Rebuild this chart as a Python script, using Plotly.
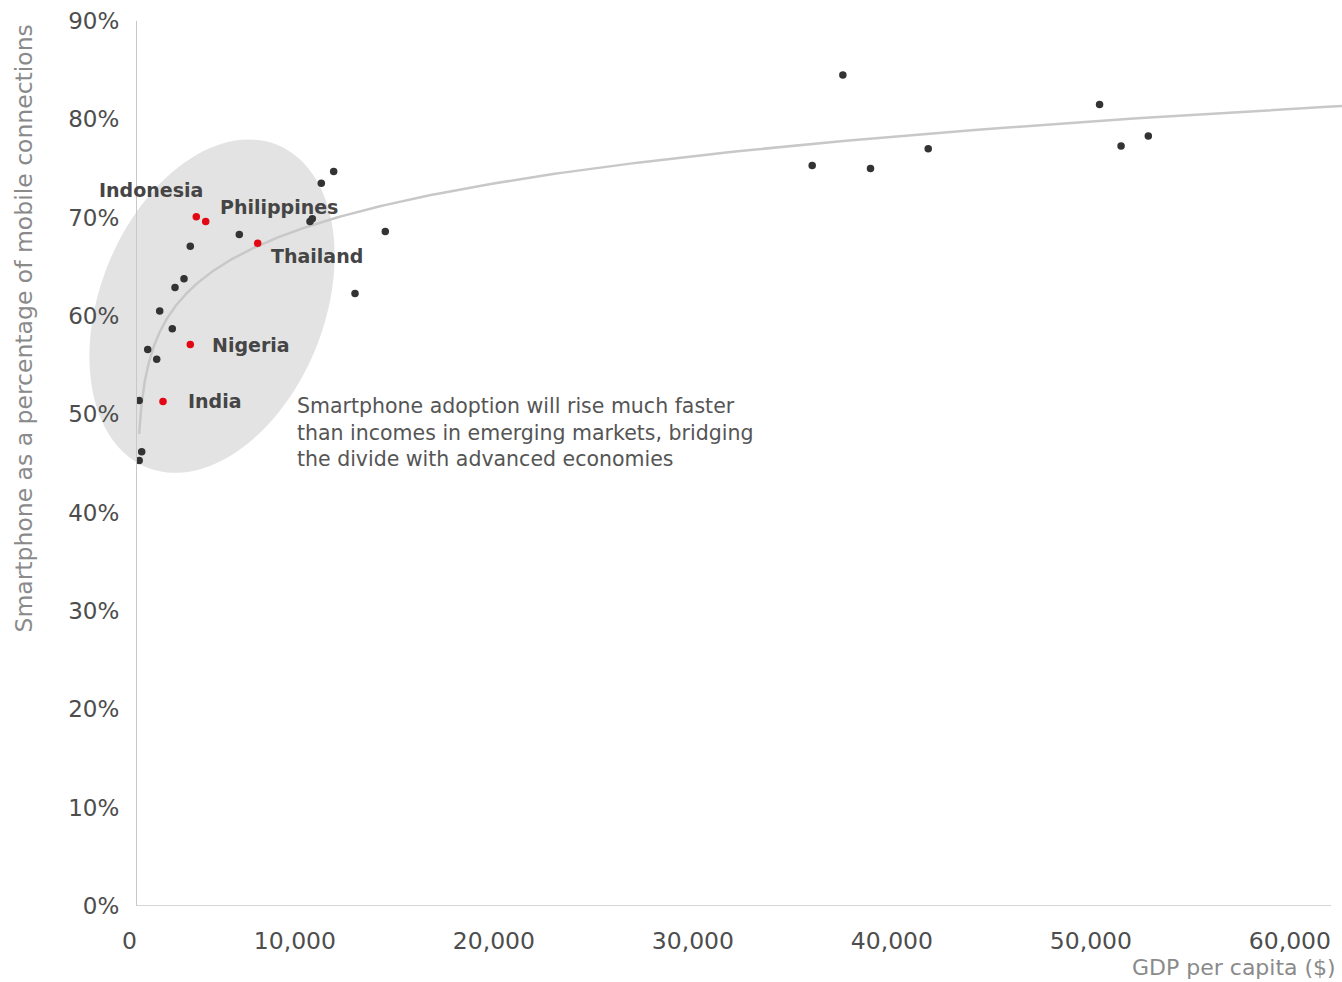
import numpy as np
import plotly.graph_objects as go

# GDP per capita (US$) and smartphone share of mobile connections (%)
other_gdp = [110, 236, 110, 538, 990, 1141, 1774, 1910, 2362, 2678, 5141,
             8693, 8809, 9261, 9884, 10955, 12477,
             33930, 35470, 36860, 39760, 48370, 49450, 50820]
other_share = [45.3, 46.2, 51.4, 56.6, 55.6, 60.5, 58.7, 62.9, 63.8, 67.1, 68.3,
               69.6, 69.9, 73.5, 74.7, 62.3, 68.6,
               75.3, 84.5, 75.0, 77.0, 81.5, 77.3, 78.3]

focus_names = ["Indonesia", "Philippines", "Thailand", "Nigeria", "India"]
focus_gdp = [2980, 3452, 6065, 2678, 1307]
focus_share = [70.1, 69.6, 67.4, 57.1, 51.3]

x_ticks = [0, 10000, 20000, 30000, 40000, 50000, 60000]
x_tick_text = ["0", "10,000", "20,000", "30,000", "40,000", "50,000", "60,000"]
y_ticks = [0, 10, 20, 30, 40, 50, 60, 70, 80, 90]
y_tick_text = ["0%", "10%", "20%", "30%", "40%", "50%", "60%", "70%", "80%", "90%"]

note_text = ("Smartphone adoption will rise much faster<br>"
             "than incomes in emerging markets, bridging<br>"
             "the divide with advanced economies")

# ---- page geometry ----
W, H = 1342, 982
M_L, M_R, M_T, M_B = 137, 0, 21, 76
X_MAX = 60553
Y_MAX = 90
plot_w = W - M_L - M_R
plot_h = H - M_T - M_B
px_per_x = plot_w / X_MAX
px_per_y = plot_h / Y_MAX

FONT = "DejaVu Sans"
DARK = "#333333"
RED = "#e30613"
GREY_LINE = "#c8c8c8"

# ---- power trendline fitted on the main country series ----
fit_gdp = np.array(other_gdp, dtype=float)
fit_share = np.array(other_share, dtype=float)
slope, intercept = np.polyfit(np.log(fit_gdp), np.log(fit_share), 1)
trend_x = np.geomspace(fit_gdp.min(), X_MAX, 400)
trend_y = np.exp(intercept) * trend_x ** slope

# ---- highlight ellipse around emerging markets (tilted in screen space) ----
# built in paper coordinates so it may spill past the y axis into the margin
ell_cx, ell_cy = 3770, 61.0          # centre in data units
ell_a, ell_b = 174, 112              # semi-axes in pixels
ell_tilt = np.deg2rad(68)
t = np.linspace(0, 2 * np.pi, 120)
dx_px = ell_a * np.cos(t) * np.cos(ell_tilt) - ell_b * np.sin(t) * np.sin(ell_tilt)
dy_px = ell_a * np.cos(t) * np.sin(ell_tilt) + ell_b * np.sin(t) * np.cos(ell_tilt)
ex = (ell_cx * px_per_x + dx_px) / plot_w
ey = (ell_cy * px_per_y + dy_px) / plot_h
ell_path = "M " + " L ".join(f"{a:.5f},{b:.5f}" for a, b in zip(ex, ey)) + " Z"

fig = go.Figure()

fig.add_trace(go.Scatter(
    x=trend_x, y=trend_y, mode="lines",
    line=dict(color=GREY_LINE, width=2.5), hoverinfo="skip", showlegend=False))

fig.add_trace(go.Scatter(
    x=other_gdp, y=other_share, mode="markers",
    marker=dict(color=DARK, size=7.5, line=dict(width=0)), showlegend=False))

fig.add_trace(go.Scatter(
    x=focus_gdp, y=focus_share, mode="markers",
    marker=dict(color=RED, size=7.5, line=dict(width=0)), showlegend=False))

fig.add_shape(type="path", path=ell_path, xref="paper", yref="paper",
              fillcolor="#e3e3e3", line=dict(width=0), layer="below")

# x axis baseline ends at the last tick
fig.add_shape(type="line", xref="x", yref="y", x0=0, x1=60000, y0=0, y1=0,
              line=dict(color=GREY_LINE, width=1.5), layer="above")

# country labels placed relative to their markers
label_offsets = {
    "Indonesia": ("right", 9, 27),
    "Philippines": ("left", 12, 15),
    "Thailand": ("left", 11, -13),
    "Nigeria": ("left", 20, 0),
    "India": ("left", 23, 1),
}
for name, gx, sy in zip(focus_names, focus_gdp, focus_share):
    anchor, xs, ys = label_offsets[name]
    fig.add_annotation(x=gx, y=sy, xref="x", yref="y", text=name,
                       showarrow=False, xanchor=anchor, yanchor="middle",
                       xshift=xs, yshift=ys,
                       font=dict(family=FONT, size=19, color="#454545", weight="bold"))

fig.add_annotation(x=(295 - M_L) / px_per_x, y=(H - M_B - 432) / px_per_y,
                   xref="x", yref="y", text=note_text, showarrow=False,
                   xanchor="left", yanchor="middle", align="left",
                   font=dict(family=FONT, size=20.5, color="#555555"))

# axis titles
fig.add_annotation(x=(24 - M_L) / plot_w, y=(H - M_B - 328.5) / plot_h,
                   xref="paper", yref="paper", showarrow=False, textangle=-90,
                   text="Smartphone as a percentage of mobile connections",
                   xanchor="center", yanchor="middle",
                   font=dict(family=FONT, size=23.5, color="#8a8a8a"))
fig.add_annotation(x=1, y=(H - M_B - 967) / plot_h, xref="paper", yref="paper",
                   xshift=-4, showarrow=False, text="GDP per capita ($)",
                   xanchor="right", yanchor="middle",
                   font=dict(family=FONT, size=22, color="#8a8a8a"))

fig.update_layout(
    width=W, height=H,
    margin=dict(l=M_L, r=M_R, t=M_T, b=M_B, pad=0),
    paper_bgcolor="white", plot_bgcolor="white",
    showlegend=False,
    xaxis=dict(range=[0, X_MAX], tickmode="array", tickvals=x_ticks, ticktext=x_tick_text,
               showgrid=False, zeroline=False, showline=False,
               ticks="", ticklabelposition="outside left", ticklabelstandoff=18,
               tickfont=dict(family=FONT, size=23.5, color="#4d4d4d")),
    yaxis=dict(range=[0, Y_MAX], tickmode="array", tickvals=y_ticks, ticktext=y_tick_text,
               showgrid=False, zeroline=False, showline=True,
               linecolor=GREY_LINE, linewidth=1.2,
               ticks="", ticklabelstandoff=12,
               tickfont=dict(family=FONT, size=23, color="#4d4d4d")),
)

fig.write_html("out.html", config={"displayModeBar": False})
